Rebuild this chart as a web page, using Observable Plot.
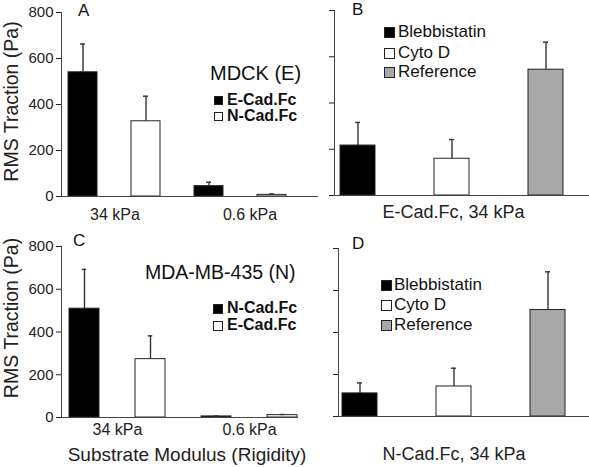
<!DOCTYPE html>
<html><head><meta charset="utf-8">
<script src="https://cdn.jsdelivr.net/npm/d3@7"></script>
<script src="https://cdn.jsdelivr.net/npm/@observablehq/plot@0.6"></script>
<style>
body{margin:0;background:#fff;}
#root{position:relative;width:589px;height:467px;overflow:hidden;font-family:"Liberation Sans",Arial,sans-serif;color:#111;}
.p{position:absolute;}
.t{position:absolute;line-height:1;white-space:nowrap;}
.row{position:absolute;display:flex;align-items:center;line-height:1;white-space:nowrap;}
.sq{display:inline-block;box-sizing:border-box;border:1px solid #222;}
</style></head><body><div id="root"></div>
<script>
// ---- data ----
const substrates = ["34 kPa", "0.6 kPa"];
const ligandsA = ["E-Cad.Fc", "N-Cad.Fc"];
const tractionA34 = [540, 327];
const errorA34 = [123, 109];
const tractionA06 = [45, 7];
const errorA06 = [17, 4];
const ligandsC = ["N-Cad.Fc", "E-Cad.Fc"];
const tractionC34 = [509, 273];
const errorC34 = [184, 109];
const tractionC06 = [5, 11];
const errorC06 = [2, 3];
const treatments = ["Blebbistatin", "Cyto D", "Reference"];
const tractionB = [216, 159, 544];
const errorB = [100, 83, 119];
const tractionD = [110, 143, 507];
const errorD = [50, 87, 182];
const yTicks = [0, 200, 400, 600, 800];
const yTitle = "RMS Traction (Pa)";
const xTitleC = "Substrate Modulus (Rigidity)";
const xTitleB = "E-Cad.Fc, 34 kPa";
const xTitleD = "N-Cad.Fc, 34 kPa";
const cellA = "MDCK (E)";
const cellC = "MDA-MB-435 (N)";

// ---- styles ----
const palette = ["#000000", "#ffffff", "#a8a8a8"];
const root = document.getElementById("root");

function groupedRows(groups, ligands, values, errors) {
  return groups.flatMap((g, i) => ligands.map((l, j) => ({
    key: g + "|" + l, group: g, idx: j, value: values[i][j], err: errors[i][j]
  })));
}
function simpleRows(names, values, errors) {
  return names.map((n, j) => ({key: n, idx: j, value: values[j], err: errors[j]}));
}

function panel(cfg) {
  const marks = [
    Plot.barY(cfg.rows, {x: "key", y: "value", fill: d => palette[d.idx], stroke: "#222", strokeWidth: 1}),
    Plot.ruleX(cfg.rows, {x: "key", y1: "value", y2: d => d.value + d.err, stroke: "#333", strokeWidth: 1.4}),
    Plot.tickY(cfg.rows, {x: "key", y: d => d.value + d.err, stroke: "#333", strokeWidth: 1.4, insetLeft: cfg.cap, insetRight: cfg.cap}),
    Plot.frame({anchor: "left", stroke: "#444"}),
    Plot.ruleY([0], {stroke: "#444"}),
    Plot.axisY({ticks: yTicks, tickSize: 5, tickPadding: 3, fontSize: 15, label: null,
      tickFormat: cfg.yLabels ? (d => d) : (() => "")})
  ];
  if (cfg.yLabels) {
    marks.push(Plot.text([yTitle], {frameAnchor: "left", textAnchor: "middle", lineAnchor: "middle", rotate: -90,
      dx: cfg.yDx, dy: cfg.yDy, fontSize: 19.5, text: d => d}));
  }
  if (cfg.groupLabels) {
    cfg.groupLabels.forEach((g, i) => {
      marks.push(Plot.text([g], {x: () => g + "|" + cfg.ligands[0], text: d => d, frameAnchor: "bottom",
        textAnchor: "middle", lineAnchor: "middle", dx: cfg.groupDx[i], dy: cfg.groupDy, fontSize: 16}));
    });
  }
  if (cfg.xTitle) {
    marks.push(Plot.text([cfg.xTitle], {frameAnchor: "bottom", textAnchor: "middle", lineAnchor: "middle",
      text: d => d, dx: cfg.tDx, dy: cfg.tDy, fontSize: cfg.tSize}));
  }
  const svg = Plot.plot({
    width: cfg.width, height: cfg.height,
    marginLeft: cfg.mL, marginRight: cfg.mR, marginTop: cfg.mT, marginBottom: cfg.mB,
    x: {type: "band", domain: cfg.rows.map(d => d.key), paddingInner: cfg.pi, paddingOuter: cfg.po, align: cfg.align, axis: null},
    y: {domain: [0, 800]},
    color: {type: "identity"},
    style: {fontFamily: "Liberation Sans, Arial, sans-serif", fontSize: "15px", color: "#222", background: "transparent", overflow: "visible"},
    marks
  });
  const wrap = document.createElement("div");
  wrap.className = "p";
  wrap.style.left = cfg.left + "px";
  wrap.style.top = cfg.top + "px";
  wrap.appendChild(svg);
  root.appendChild(wrap);
}

panel({rows: groupedRows(substrates, ligandsA, [tractionA34, tractionA06], [errorA34, errorA06]), ligands: ligandsA,
  left: 0, top: 0, width: 320, height: 225, mL: 61, mR: 2, mT: 12, mB: 29,
  pi: 0.545, po: 0.29, align: 0.19, cap: 12, yLabels: true, yDx: -50, yDy: -3,
  groupLabels: substrates, groupDx: [32, 41], groupDy: 18});
panel({rows: simpleRows(treatments, tractionB, errorB),
  left: 290, top: 0, width: 299, height: 225, mL: 44, mR: 0, mT: 10, mB: 30,
  pi: 0.63, po: 0.163, align: 0.195, cap: 15, yLabels: false,
  xTitle: xTitleB, tDx: -8.5, tDy: 17, tSize: 18});
panel({rows: groupedRows(substrates, ligandsC, [tractionC34, tractionC06], [errorC34, errorC06]), ligands: ligandsC,
  left: 0, top: 225, width: 320, height: 242, mL: 61, mR: 22, mT: 21, mB: 50,
  pi: 0.54, po: 0.057, align: 0.92, cap: 12.75, yLabels: true, yDx: -50, yDy: -14,
  groupLabels: substrates, groupDx: [33, 33], groupDy: 12.6,
  xTitle: xTitleC, tDx: 7, tDy: 37.6, tSize: 19});
panel({rows: simpleRows(treatments, tractionD, errorD),
  left: 290, top: 225, width: 299, height: 242, mL: 48, mR: 0, mT: 23, mB: 51,
  pi: 0.63, po: 0.143, align: 0.15, cap: 15, yLabels: false,
  xTitle: xTitleD, tDx: -10, tDy: 37.6, tSize: 18});

// ---- overlays: panel letters, cell lines, legends ----
function text(str, left, capCenter, size, weight) {
  const el = document.createElement("div");
  el.className = "t";
  el.textContent = str;
  el.style.left = left + "px";
  el.style.top = (capCenter - 0.49 * size) + "px";
  el.style.fontSize = size + "px";
  if (weight) el.style.fontWeight = weight;
  root.appendChild(el);
}
function legend(names, left, capCenters, size, rowH, sq, gap, weight) {
  names.forEach((n, i) => {
    const row = document.createElement("div");
    row.className = "row";
    row.style.left = left + "px";
    row.style.top = (capCenters[i] - rowH / 2) + "px";
    row.style.height = rowH + "px";
    row.style.fontSize = size + "px";
    if (weight) row.style.fontWeight = weight;
    const s = document.createElement("span");
    s.className = "sq";
    s.style.width = sq + "px";
    s.style.height = sq + "px";
    s.style.background = palette[i];
    s.style.marginRight = gap + "px";
    s.style.marginTop = "2px";
    row.appendChild(s);
    row.appendChild(document.createTextNode(n));
    root.appendChild(row);
  });
}
text("A", 78, 10, 17);
text("B", 352, 9.5, 17);
text("C", 73, 240, 17);
text("D", 352, 243.5, 17);
text(cellA, 210, 72.5, 20);
text(cellC, 145, 273, 19.5);
legend(ligandsA, 214, [99.5, 115.5], 16, 16, 9, 4, "bold");
legend(ligandsC, 213, [308, 324.5], 16, 16, 10, 4, "bold");
legend(treatments, 384, [31, 52, 71.7], 17, 18, 11, 3);
legend(treatments, 381, [284.5, 304.5, 324.2], 17, 18, 11, 2);
</script></body></html>
